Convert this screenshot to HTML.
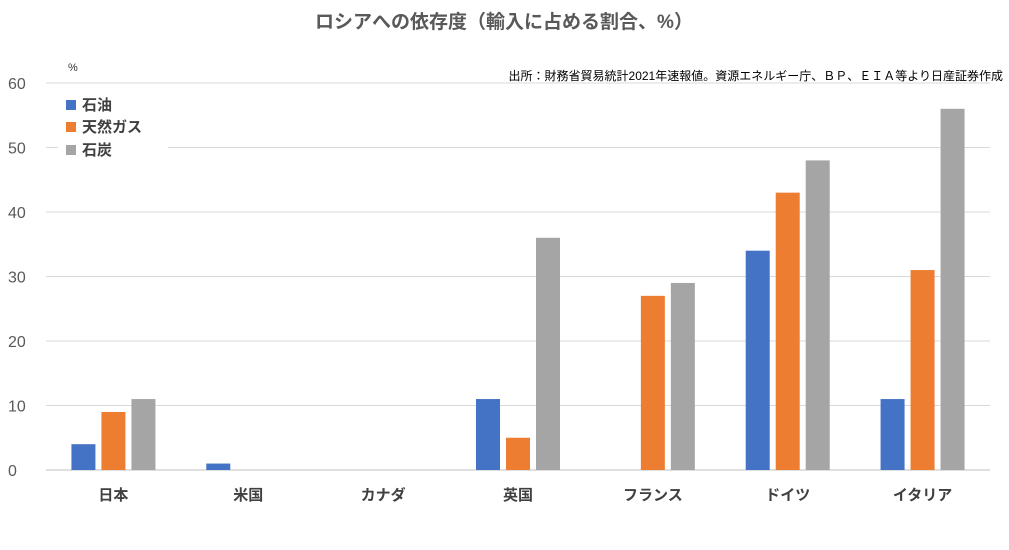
<!DOCTYPE html>
<html><head><meta charset="utf-8">
<style>
body{margin:0;background:#fff;width:1009px;height:545px;overflow:hidden;font-family:"Liberation Sans","Noto Sans CJK JP",sans-serif;}
svg text{font-family:"Liberation Sans","Noto Sans CJK JP",sans-serif;}
</style></head>
<body>
<svg id="chart" width="1009" height="545">
<text x="504" y="28" text-anchor="middle" font-size="19" font-weight="bold" fill="#595959">ロシアへの依存度（輸入に占める割合、%）</text>
<text x="68" y="71" font-size="11" fill="#333">%</text>
<text x="1003" y="80" text-anchor="end" font-size="12" fill="#000">出所：財務省貿易統計2021年速報値。資源エネルギー庁、ＢＰ、ＥＩＡ等より日産証券作成</text>
<g id="grid"></g>
<g id="bars"></g>
<g id="labels"></g>
<rect x="58" y="90" width="110" height="72" fill="#fff"/>
<g>
<rect x="66" y="100" width="10" height="10" fill="#4472c4"/>
<text x="82" y="110" font-size="15" font-weight="bold" fill="#404040">石油</text>
<rect x="66" y="122" width="10" height="10" fill="#ed7d31"/>
<text x="82" y="132" font-size="15" font-weight="bold" fill="#404040">天然ガス</text>
<rect x="66" y="145" width="10" height="10" fill="#a5a5a5"/>
<text x="82" y="155" font-size="15" font-weight="bold" fill="#404040">石炭</text>
</g>
</svg>
<script>
const categories=["日本","米国","カナダ","英国","フランス","ドイツ","イタリア"];
const oil=[4,1,0,11,0,34,11];
const gas=[9,0,0,5,27,43,31];
const coal=[11,0,0,36,29,48,56];
const yTicks=[0,10,20,30,40,50,60];
const seriesNames=["oil","gas","coal"];
const colors=["#4472c4","#ed7d31","#a5a5a5"];
const NS="http://www.w3.org/2000/svg";
const x0=46,x1=990,yBase=470,yTop=83,yMax=60;
const band=(x1-x0)/categories.length;
function y(v){return yBase-(v/yMax)*(yBase-yTop);}
function cx(i){return x0+band*(i+0.5);}
const grid=document.getElementById('grid'),bars=document.getElementById('bars'),labels=document.getElementById('labels');
yTicks.forEach(t=>{
 const l=document.createElementNS(NS,'line');
 l.setAttribute('x1',x0);l.setAttribute('x2',x1);l.setAttribute('y1',y(t));l.setAttribute('y2',y(t));
 l.setAttribute('stroke',t===0?'#bfbfbf':'#d9d9d9');l.setAttribute('stroke-width','1');
 
 
 grid.appendChild(l);
 const tx=document.createElementNS(NS,'text');
 tx.setAttribute('x',8);tx.setAttribute('y',y(t)+6);tx.setAttribute('font-size','16');tx.setAttribute('fill','#595959');
 tx.textContent=t;
 
 
 labels.appendChild(tx);
});
const series=[oil,gas,coal];
const bw=24,step=30;
categories.forEach((c,i)=>{
 series.forEach((s,k)=>{
  const v=s[i];
  const r=document.createElementNS(NS,'rect');
  r.setAttribute('x',cx(i)+(k-1)*step-bw/2);
  r.setAttribute('y',y(v));r.setAttribute('width',bw);r.setAttribute('height',yBase-y(v));
  r.setAttribute('fill',colors[k]);
  
  
  bars.appendChild(r);
 });
 const t=document.createElementNS(NS,'text');
 t.setAttribute('x',cx(i));t.setAttribute('y',500);t.setAttribute('text-anchor','middle');
 t.setAttribute('font-size','15');t.setAttribute('font-weight','bold');t.setAttribute('fill','#404040');
 t.textContent=c;
 
 
 labels.appendChild(t);
});
</script>
</body></html>
